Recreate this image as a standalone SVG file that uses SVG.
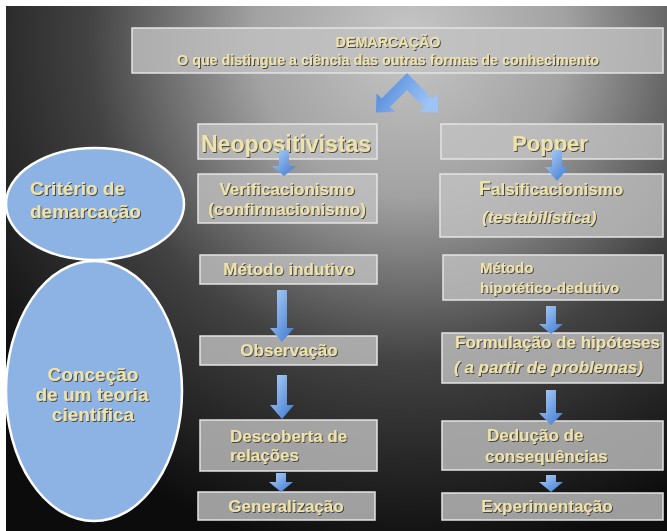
<svg xmlns="http://www.w3.org/2000/svg" width="667" height="531" viewBox="0 0 667 531">
<defs>
<radialGradient id="bg" gradientUnits="userSpaceOnUse" cx="410" cy="40" r="520">
<stop offset="0" stop-color="#c6c6c6"/>
<stop offset="0.3" stop-color="#a2a2a2"/>
<stop offset="0.62" stop-color="#424242"/>
<stop offset="1" stop-color="#0c0c0c"/>
</radialGradient>
<linearGradient id="ar" x1="0" y1="0" x2="1" y2="1">
<stop offset="0" stop-color="#b2d3fa"/>
<stop offset="1" stop-color="#3a76cf"/>
</linearGradient>
<linearGradient id="chev" x1="0" y1="0" x2="1" y2="0.4">
<stop offset="0" stop-color="#4a82d6"/>
<stop offset="1" stop-color="#9ec4f6"/>
</linearGradient>
<filter id="sh" x="-10%" y="-30%" width="120%" height="160%">
<feDropShadow dx="1" dy="1" stdDeviation="0.5" flood-color="#3a3a3a" flood-opacity="0.9"/>
</filter>
<style>
.box{fill:#c2c2c2;fill-opacity:0.8;stroke:#e4e4e4;stroke-width:1.5}
.ell{fill:#8cb3e3;stroke:#ffffff;stroke-width:2.5}
.t{font-family:"Liberation Sans",Arial,sans-serif;font-weight:bold;fill:#efe3ab;filter:url(#sh)}
.c{text-anchor:middle}
.i{font-style:italic}
.arr{fill:url(#ar)}
</style>
</defs>
<rect x="0" y="0" width="667" height="531" fill="#ffffff"/>
<rect x="6" y="6" width="661" height="525" fill="url(#bg)"/>

<g id="demarcacao">
<rect class="box" x="132" y="28" width="531" height="45"/>
<text class="t c" x="388" y="47" font-size="14.3">DEMARCAÇÃO</text>
<text class="t c" x="388" y="65" font-size="14.3">O que distingue a ciência das outras formas de conhecimento</text>
</g>

<g id="criterio">
<ellipse class="ell" cx="95" cy="204" rx="89" ry="56"/>
<text class="t" x="30" y="195" font-size="19">Critério de</text>
<text class="t" x="30" y="218" font-size="19">demarcação</text>
</g>

<g id="concecao">
<ellipse class="ell" cx="94" cy="391" rx="88" ry="130"/>
<text class="t c" x="93" y="381" font-size="19">Conceção</text>
<text class="t c" x="92" y="401" font-size="19">de um teoria</text>
<text class="t c" x="93" y="421" font-size="19">científica</text>
</g>

<g id="neopositivistas">
<rect class="box" x="198" y="124" width="179" height="35"/>
<text class="t c" x="286" y="152" font-size="23">Neopositivistas</text>
</g>

<g id="verificacionismo">
<rect class="box" x="198" y="174" width="179" height="49"/>
<text class="t c" x="287" y="195" font-size="17">Verificacionismo</text>
<text class="t c" x="287" y="215" font-size="17">(confirmacionismo)</text>
</g>

<g id="metodo-indutivo">
<rect class="box" x="200" y="255" width="177" height="29"/>
<text class="t c" x="289" y="275" font-size="17">Método indutivo</text>
</g>

<g id="observacao">
<rect class="box" x="200" y="336" width="177" height="29"/>
<text class="t c" x="289" y="356" font-size="17">Observação</text>
</g>

<g id="descoberta">
<rect class="box" x="200" y="420" width="177" height="51"/>
<text class="t" x="230" y="442" font-size="17">Descoberta de</text>
<text class="t" x="230" y="461" font-size="17">relações</text>
</g>

<g id="generalizacao">
<rect class="box" x="198" y="492" width="177" height="28"/>
<text class="t c" x="286" y="512" font-size="17">Generalização</text>
</g>

<g id="popper">
<rect class="box" x="441" y="124" width="222" height="35"/>
<text class="t c" x="550" y="151" font-size="22">Popper</text>
</g>

<g id="falsificacionismo">
<rect class="box" x="440" y="174" width="223" height="63"/>
<text class="t c" x="551" y="195" font-size="17"><tspan font-size="20">F</tspan>alsificacionismo</text>
<text class="t i" x="482" y="223" font-size="17">(testabilística)</text>
</g>

<g id="metodo-hipotetico">
<rect class="box" x="443" y="255" width="220" height="45"/>
<text class="t" x="480" y="273" font-size="15">Método</text>
<text class="t" x="480" y="293" font-size="15">hipotético-dedutivo</text>
</g>

<g id="formulacao">
<rect class="box" x="442" y="333" width="221" height="50"/>
<text class="t" x="455" y="348" font-size="17">Formulação de hipóteses</text>
<text class="t i" x="454" y="373" font-size="17">( a partir de problemas)</text>
</g>

<g id="deducao">
<rect class="box" x="442" y="421" width="221" height="49"/>
<text class="t" x="487" y="441" font-size="17">Dedução de</text>
<text class="t" x="485" y="462" font-size="17">consequências</text>
</g>

<g id="experimentacao">
<rect class="box" x="442" y="493" width="221" height="27"/>
<text class="t c" x="547" y="512" font-size="17">Experimentação</text>
</g>

<g id="connectors">
<path fill="url(#chev)" d="M407,73 L432.45,98.47 L437.4,93.52 L438.11,112.61 L419.02,111.9 L423.97,106.95 L407,90 L390.03,106.95 L394.98,111.9 L375.89,112.61 L376.6,93.52 L381.55,98.47 Z"/>
<path class="arr" d="M279,150 H289 V166 H296 L284,176 L272,166 H279 Z"/>
<path class="arr" d="M552,150 H562 V167 H569 L557,181 L545,167 H552 Z"/>
<path class="arr" d="M277,290 H287 V328 H294 L282,342 L270,328 H277 Z"/>
<path class="arr" d="M277,375 H287 V405 H294 L282,419 L270,405 H277 Z"/>
<path class="arr" d="M276,473 H286 V482 H293 L281,492 L269,482 H276 Z"/>
<path class="arr" d="M546,306 H556 V324 H563 L551,334 L539,324 H546 Z"/>
<path class="arr" d="M546,390 H556 V413 H563 L551,425 L539,413 H546 Z"/>
<path class="arr" d="M546,475 H556 V482 H563 L551,492 L539,482 H546 Z"/>
</g>
</svg>
